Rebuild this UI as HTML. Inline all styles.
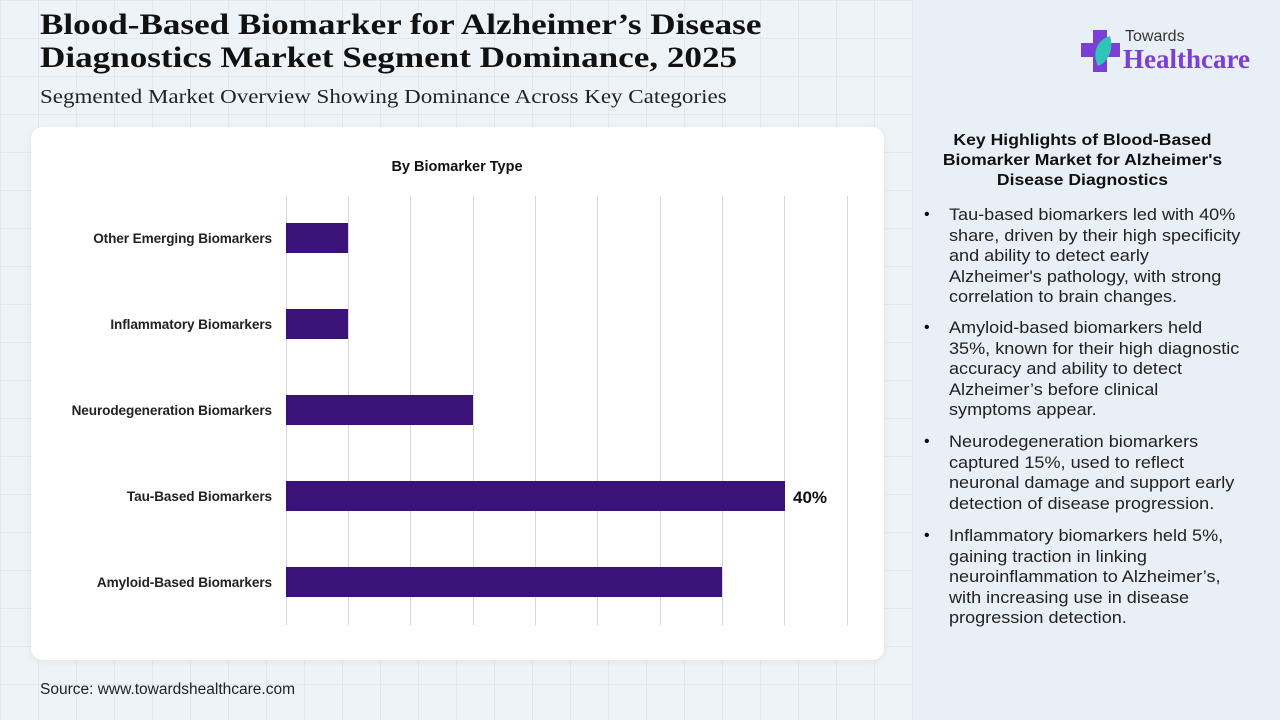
<!DOCTYPE html>
<html><head><meta charset="utf-8"><style>
*{margin:0;padding:0;box-sizing:border-box}
body{width:1280px;height:720px;overflow:hidden;position:relative;font-family:"Liberation Sans",sans-serif;
background-color:#eef3f7;
background-image:linear-gradient(#e1e8ef 1px,transparent 1px),linear-gradient(90deg,#e1e8ef 1px,transparent 1px);
background-size:38px 38px;}
.right{position:absolute;left:913px;top:0;width:367px;height:720px;background:#e9eff6}
.title{position:absolute;left:40px;top:8px;font-family:"Liberation Serif",serif;font-weight:bold;font-size:30px;line-height:33px;color:#111;transform:scaleX(1.17);transform-origin:left top;white-space:nowrap}
.sub{position:absolute;left:40px;top:86px;font-family:"Liberation Serif",serif;font-size:20px;color:#222;transform:scaleX(1.15);transform-origin:left top;white-space:nowrap}
.card{position:absolute;left:31px;top:127px;width:853px;height:533px;background:#fff;border-radius:12px;box-shadow:0 2px 8px rgba(0,0,0,0.06)}
.lab{position:absolute;right:1008px;font-size:13.6px;font-weight:bold;color:#222;white-space:nowrap;letter-spacing:-0.1px}
.h{position:absolute;left:945px;width:275px;top:131px;text-align:center;font-weight:bold;font-size:16px;line-height:20px;color:#111;transform:scaleX(1.1);transform-origin:center top;white-space:nowrap}
.b{position:absolute;left:949px;font-size:16.3px;line-height:20.5px;color:#222;white-space:nowrap;transform:scaleX(1.11);transform-origin:left top}
.dot{position:absolute;left:924px;font-size:16px}
.src{position:absolute;left:40px;top:681px;font-size:15.5px;color:#222}
</style></head><body>
<div class="right"></div>
<div class="title">Blood-Based Biomarker for Alzheimer’s Disease<br>Diagnostics Market Segment Dominance, 2025</div>
<div class="sub">Segmented Market Overview Showing Dominance Across Key Categories</div>
<svg style="position:absolute;left:1080px;top:28px" width="42" height="46" viewBox="0 0 42 46">
<path d="M13 2h14v13h13v14H27v15H13V29H1V15h12z" fill="#7b3fd6"/>
<path d="M30 8c-14 4-18 18-12 30 10-4 16-16 12-30z" fill="#2ec4b6"/>
</svg>
<div style="position:absolute;left:1125px;top:28px;font-size:16px;color:#333">Towards</div>
<div style="position:absolute;left:1123px;top:44px;font-family:'Liberation Serif',serif;font-weight:bold;font-size:27px;color:#7b3fd6">Healthcare</div>
<div class="card"></div>
<div style="position:absolute;left:357px;width:200px;top:159px;text-align:center;font-size:14.5px;font-weight:bold;color:#111">By Biomarker Type</div>
<svg style="position:absolute;left:0;top:0" width="900" height="700">
<g stroke="#d9d9d9" stroke-width="1">
<line x1="286.5" y1="196" x2="286.5" y2="625"/><line x1="348.5" y1="196" x2="348.5" y2="625"/>
<line x1="410.5" y1="196" x2="410.5" y2="625"/><line x1="473.5" y1="196" x2="473.5" y2="625"/>
<line x1="535.5" y1="196" x2="535.5" y2="625"/><line x1="597.5" y1="196" x2="597.5" y2="625"/>
<line x1="660.5" y1="196" x2="660.5" y2="625"/><line x1="722.5" y1="196" x2="722.5" y2="625"/>
<line x1="784.5" y1="196" x2="784.5" y2="625"/><line x1="847.5" y1="196" x2="847.5" y2="625"/>
</g>
<g fill="#3b1378">
<rect x="286" y="223" width="62" height="30"/>
<rect x="286" y="309" width="62" height="30"/>
<rect x="286" y="395" width="187" height="30"/>
<rect x="286" y="481" width="499" height="30"/>
<rect x="286" y="567" width="436" height="30"/>
</g>
<text x="793" y="503" font-family="Liberation Sans" font-weight="bold" font-size="17" fill="#111">40%</text>
</svg>
<div class="lab" style="top:231px">Other Emerging Biomarkers</div>
<div class="lab" style="top:317px">Inflammatory Biomarkers</div>
<div class="lab" style="top:403px">Neurodegeneration Biomarkers</div>
<div class="lab" style="top:489px">Tau-Based Biomarkers</div>
<div class="lab" style="top:575px">Amyloid-Based Biomarkers</div>
<div class="h">Key Highlights of Blood-Based<br>Biomarker Market for Alzheimer's<br>Disease Diagnostics</div>
<div class="dot" style="top:206px">•</div>
<div class="b" style="top:205px">Tau-based biomarkers led with 40%<br>share, driven by their high specificity<br>and ability to detect early<br>Alzheimer's pathology, with strong<br>correlation to brain changes.</div>
<div class="dot" style="top:319px">•</div>
<div class="b" style="top:318px">Amyloid-based biomarkers held<br>35%, known for their high diagnostic<br>accuracy and ability to detect<br>Alzheimer’s before clinical<br>symptoms appear.</div>
<div class="dot" style="top:433px">•</div>
<div class="b" style="top:432px">Neurodegeneration biomarkers<br>captured 15%, used to reflect<br>neuronal damage and support early<br>detection of disease progression.</div>
<div class="dot" style="top:527px">•</div>
<div class="b" style="top:526px">Inflammatory biomarkers held 5%,<br>gaining traction in linking<br>neuroinflammation to Alzheimer’s,<br>with increasing use in disease<br>progression detection.</div>
<div class="src">Source: www.towardshealthcare.com</div>
</body></html>
